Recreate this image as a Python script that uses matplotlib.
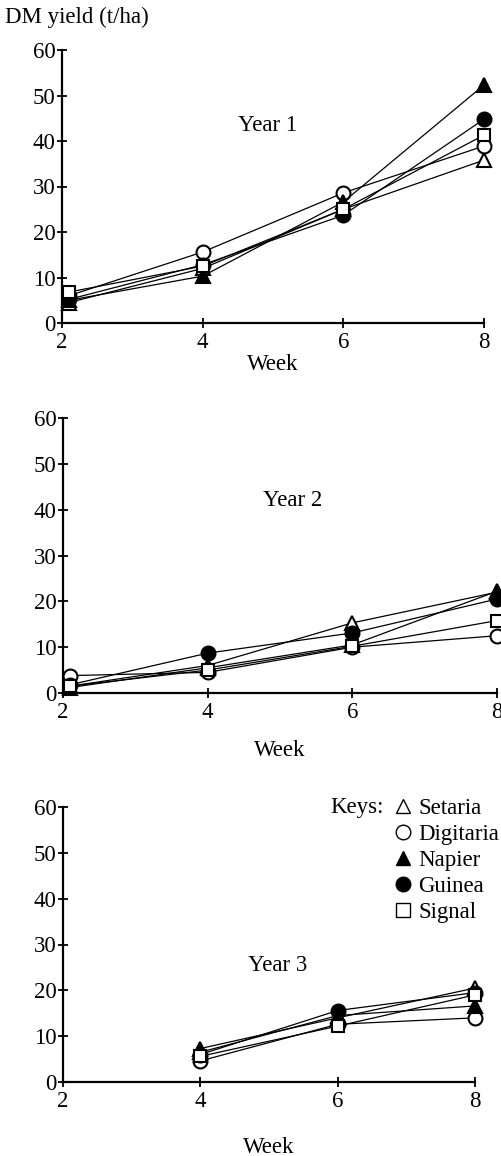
import matplotlib
matplotlib.use("Agg")
import matplotlib.pyplot as plt
from matplotlib.lines import Line2D

plt.rcParams['font.family'] = ['Liberation Serif', 'DejaVu Serif']

species = ["Setaria", "Digitaria", "Napier", "Guinea", "Signal"]
markers = {"Setaria": "^", "Digitaria": "o", "Napier": "^", "Guinea": "o", "Signal": "s"}
filled = {"Setaria": False, "Digitaria": False, "Napier": True, "Guinea": True, "Signal": False}

# Year 1
y1_weeks = [2.1, 4, 6, 8]
y1 = {
    "Setaria":   [4.5, 12.0, 25.0, 35.8],
    "Digitaria": [6.0, 15.6, 28.6, 38.9],
    "Napier":    [5.0, 10.3, 26.6, 52.3],
    "Guinea":    [5.2, 12.8, 23.7, 44.8],
    "Signal":    [6.8, 12.5, 25.0, 41.3],
}
# Year 2
y2_weeks = [2.1, 4, 6, 8]
y2 = {
    "Setaria":   [1.5, 6.0, 15.3, 22.0],
    "Digitaria": [3.8, 4.5, 10.0, 12.5],
    "Napier":    [1.2, 5.5, 10.5, 22.2],
    "Guinea":    [1.8, 8.7, 13.1, 20.5],
    "Signal":    [1.5, 5.0, 10.2, 15.8],
}
# Year 3
y3_weeks = [4, 6, 8]
y3 = {
    "Setaria":   [7.3, 14.0, 20.5],
    "Digitaria": [4.6, 12.6, 14.0],
    "Napier":    [6.5, 14.5, 16.6],
    "Guinea":    [6.0, 15.6, 19.5],
    "Signal":    [5.6, 12.2, 19.0],
}

year_labels = ["Year 1", "Year 2", "Year 3"]
year_label_pos = [(4.92, 43.5), (5.18, 42.0), (5.12, 25.5)]
x_ticks = [2, 4, 6, 8]
y_ticks = [0, 10, 20, 30, 40, 50, 60]

W, H = 502, 1156
fig = plt.figure(figsize=(W / 100, H / 100), dpi=100)

panels = [
    (62, 484, 50, 323, y1_weeks, y1),
    (63, 497, 418, 693, y2_weeks, y2),
    (63, 475, 807, 1082, y3_weeks, y3),
]
label_pads = [1, 12, 18]

FS = 16.5
for i, (l, r, t, b, weeks, data) in enumerate(panels):
    ax = fig.add_axes([l / W, 1 - b / H, (r - l) / W, (b - t) / H])
    for sp in species:
        vals = data[sp]
        ax.plot(weeks, vals, color="black", lw=0.9,
                marker=markers[sp], ms=10 if markers[sp] != "s" else 8.5,
                mfc="black" if filled[sp] else "white", mec="black", mew=1.5,
                clip_on=False, zorder=3)
    ax.set_xlim(2, 8)
    ax.set_ylim(0, 60)
    ax.set_xticks(x_ticks)
    ax.set_yticks(y_ticks)
    for s in ["top", "right"]:
        ax.spines[s].set_visible(False)
    for s in ["left", "bottom"]:
        ax.spines[s].set_linewidth(1.6)
    ax.tick_params(direction="inout", length=7, width=1.3, labelsize=FS, pad=1)
    ax.tick_params(axis="x", pad=3)
    ax.set_xlabel("Week", fontsize=FS, labelpad=label_pads[i])
    ax.text(*year_label_pos[i], year_labels[i], fontsize=FS, ha="center", va="center")
    if i == 2:
        ax.text(330 / W, 1 - 808 / H, "Keys:", transform=fig.transFigure,
                fontsize=FS, ha="left", va="center")
        handles = [Line2D([], [], ls="none", marker=markers[sp], ms=10.5 if markers[sp] != "s" else 9.5,
                          mfc="black" if filled[sp] else "white", mec="black", mew=1.0)
                   for sp in species]
        fig.legend(handles, species, loc="upper left",
                   bbox_to_anchor=(394 / W, 1 - 798 / H), frameon=False,
                   fontsize=FS, handlelength=0.8, handletextpad=0.25,
                   labelspacing=0.22, borderpad=0, borderaxespad=0)

fig.text(5 / W, 1 - 17 / H, "DM yield (t/ha)", fontsize=FS, ha="left", va="center")

fig.savefig("out.png", dpi=100)
